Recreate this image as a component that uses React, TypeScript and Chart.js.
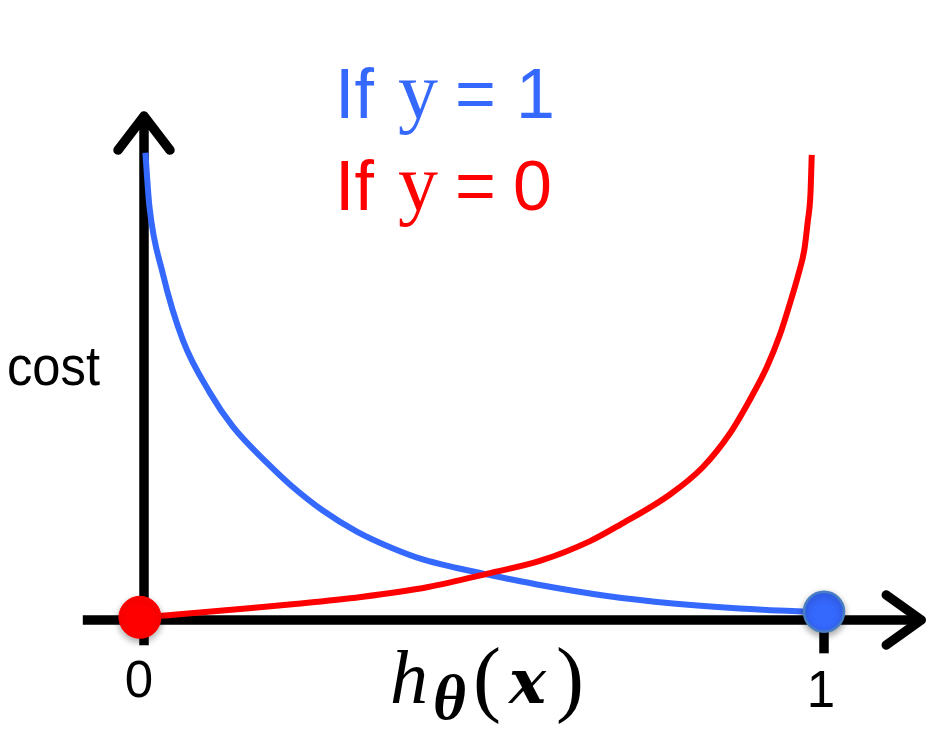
import React, { useEffect, useRef } from 'react';
import { Chart, registerables } from 'chart.js';

Chart.register(...registerables);

// ---- data ----
const blueX = [0.002, 0.008, 0.0275, 0.057, 0.097, 0.131, 0.181, 0.215, 0.263, 0.313, 0.362, 0.41, 0.46, 0.509, 0.582, 0.681, 0.778, 0.876, 0.969, 1.0];
const blueY = [6.87, 6.08, 5.1, 4.12, 3.34, 2.84, 2.31, 1.99, 1.61, 1.3, 1.07, 0.89, 0.765, 0.66, 0.515, 0.353, 0.243, 0.169, 0.125, 0.118];
const redX = [0.003, 0.031, 0.124, 0.222, 0.319, 0.418, 0.509, 0.582, 0.656, 0.7, 0.774, 0.822, 0.862, 0.891, 0.916, 0.935, 0.95, 0.962, 0.971, 0.976, 0.98, 0.982];
const redY = [0.044, 0.066, 0.147, 0.235, 0.338, 0.485, 0.69, 0.868, 1.16, 1.4, 1.85, 2.25, 2.75, 3.24, 3.72, 4.19, 4.66, 5.07, 5.44, 5.85, 6.25, 6.84];
const blueDot = { x: 1.0, y: 0.12 };
const redDot = { x: -0.006, y: 0.04 };
const tickValues = [0, 1];
const tickLabels = ['0', '1'];
const yAxisLabel = 'cost';
const legendLines = [
  { pre: 'If', v: 'y', eq: '=', val: '1' },
  { pre: 'If', v: 'y', eq: '=', val: '0' },
];

// ---- layout / style ----
const W = 928;
const H = 748;
const X_MIN = -144 / 680;
const X_MAX = 784 / 680;
const Y_MIN = -128 / 68;
const Y_MAX = 620 / 68;
const BLUE = '#3568fd';
const RED = '#ff0000';
const AXIS_X_FROM = -0.09;
const AXIS_X_TO = 1.146;
const AXIS_Y_FROM = -0.37;
const AXIS_Y_TO = 7.44;
const TICK_DOWN = -0.49;

function leftText(ctx: CanvasRenderingContext2D, t: string, left: number, base: number, maxW?: number) {
  const m = ctx.measureText(t);
  const x = left + m.actualBoundingBoxLeft;
  if (maxW) ctx.fillText(t, x, base, maxW);
  else ctx.fillText(t, x, base);
}

const axesPlugin = {
  id: 'axesPlugin',
  beforeDatasetsDraw(chart: any) {
    const ctx = chart.ctx as CanvasRenderingContext2D;
    const xs = chart.scales.x;
    const ys = chart.scales.y;
    const x0 = xs.getPixelForValue(0);
    const y0 = ys.getPixelForValue(0);
    ctx.save();
    ctx.strokeStyle = '#000';
    ctx.lineWidth = 9.5;
    ctx.lineCap = 'butt';
    ctx.beginPath();
    ctx.moveTo(xs.getPixelForValue(AXIS_X_FROM), y0);
    ctx.lineTo(xs.getPixelForValue(AXIS_X_TO) - 4, y0);
    ctx.stroke();
    ctx.beginPath();
    ctx.moveTo(x0, ys.getPixelForValue(AXIS_Y_FROM));
    ctx.lineTo(x0, ys.getPixelForValue(AXIS_Y_TO) + 4);
    ctx.stroke();
    const x1 = xs.getPixelForValue(tickValues[1]);
    ctx.beginPath();
    ctx.moveTo(x1, y0);
    ctx.lineTo(x1, ys.getPixelForValue(TICK_DOWN));
    ctx.stroke();
    ctx.lineCap = 'round';
    ctx.lineJoin = 'round';
    const xt = xs.getPixelForValue(AXIS_X_TO);
    ctx.beginPath();
    ctx.moveTo(xt - 37, y0 - 25);
    ctx.lineTo(xt - 2, y0);
    ctx.lineTo(xt - 37, y0 + 25);
    ctx.stroke();
    const yt = ys.getPixelForValue(AXIS_Y_TO);
    ctx.beginPath();
    ctx.moveTo(x0 - 26, yt + 36);
    ctx.lineTo(x0, yt + 2);
    ctx.lineTo(x0 + 26, yt + 36);
    ctx.stroke();
    ctx.restore();
  },
  beforeDatasetDraw(chart: any, args: any) {
    const ds = chart.data.datasets[args.index];
    if (ds.isDot) {
      const ctx = chart.ctx as CanvasRenderingContext2D;
      ctx.save();
      ctx.shadowColor = 'rgba(0,0,0,0.35)';
      ctx.shadowBlur = 7;
      ctx.shadowOffsetY = 3;
    }
  },
  afterDatasetDraw(chart: any, args: any) {
    const ds = chart.data.datasets[args.index];
    if (ds.isDot) chart.ctx.restore();
  },
  afterDraw(chart: any) {
    const ctx = chart.ctx as CanvasRenderingContext2D;
    const xs = chart.scales.x;
    ctx.save();
    ctx.textAlign = 'left';
    ctx.textBaseline = 'alphabetic';
    const bases = [118, 210];
    const colors = [BLUE, RED];
    legendLines.forEach((l, i) => {
      ctx.fillStyle = colors[i];
      ctx.font = '70px "Liberation Sans"';
      leftText(ctx, l.pre, 341, bases[i], 40);
      ctx.font = '80px "Liberation Serif"';
      leftText(ctx, l.v, 398, bases[i]);
      ctx.font = '70px "Liberation Sans"';
      leftText(ctx, l.eq, 458, bases[i]);
      leftText(ctx, l.val, i === 0 ? 521 : 515, bases[i]);
    });
    ctx.fillStyle = '#000';
    ctx.font = '55px "Liberation Sans"';
    leftText(ctx, yAxisLabel, 9, 385, 93);
    ctx.font = '51px "Liberation Sans"';
    ctx.textAlign = 'center';
    const tickBase = [697, 707];
    const tickDx = [-5, -3];
    tickValues.forEach((v, i) => {
      ctx.fillText(tickLabels[i], xs.getPixelForValue(v) + tickDx[i], tickBase[i]);
    });
    ctx.textAlign = 'left';
    ctx.font = 'italic 76px "Liberation Serif"';
    leftText(ctx, 'h', 392, 703);
    ctx.font = 'italic bold 64px "Liberation Serif"';
    leftText(ctx, '\u03B8', 435, 719, 33);
    ctx.font = '84px "Liberation Serif"';
    leftText(ctx, '(', 476, 706);
    ctx.font = 'italic bold 62px "DejaVu Serif"';
    leftText(ctx, 'x', 507, 703, 48);
    ctx.font = '84px "Liberation Serif"';
    leftText(ctx, ')', 558, 706);
    ctx.restore();
  },
};

export default function App() {
  const ref = useRef<HTMLCanvasElement>(null);
  useEffect(() => {
    const canvas = ref.current;
    if (!canvas) return;
    const chart = new Chart(canvas, {
      type: 'line',
      data: {
        datasets: [
          {
            label: 'y = 0 dot',
            data: [redDot],
            isDot: true,
            showLine: false,
            pointRadius: 21,
            pointBackgroundColor: RED,
            pointBorderColor: RED,
            pointBorderWidth: 1,
            order: 0,
          } as any,
          {
            label: 'y = 1 dot',
            data: [blueDot],
            isDot: true,
            showLine: false,
            pointRadius: 20,
            pointBackgroundColor: BLUE,
            pointBorderColor: '#4a7ec4',
            pointBorderWidth: 2.5,
            order: 1,
          } as any,
          {
            label: 'If y = 0',
            data: redX.map((x, i) => ({ x, y: redY[i] })),
            borderColor: RED,
            borderWidth: 6,
            pointRadius: 0,
            cubicInterpolationMode: 'monotone',
            fill: false,
            order: 2,
          },
          {
            label: 'If y = 1',
            data: blueX.map((x, i) => ({ x, y: blueY[i] })),
            borderColor: BLUE,
            borderWidth: 6,
            pointRadius: 0,
            cubicInterpolationMode: 'monotone',
            fill: false,
            order: 3,
          },
        ],
      },
      options: {
        responsive: false,
        animation: false,
        maintainAspectRatio: false,
        layout: { padding: 0, autoPadding: false },
        scales: {
          x: { type: 'linear', min: X_MIN, max: X_MAX, display: false },
          y: { type: 'linear', min: Y_MIN, max: Y_MAX, display: false },
        },
        plugins: {
          legend: { display: false },
          tooltip: { enabled: false },
        },
        events: [],
      },
      plugins: [axesPlugin],
    });
    return () => chart.destroy();
  }, []);
  return (
    <div style={{ position: 'fixed', left: 0, top: 0, width: W, height: H, background: '#fff' }}>
      <canvas ref={ref} width={W} height={H} style={{ width: W, height: H, display: 'block' }} />
    </div>
  );
}
